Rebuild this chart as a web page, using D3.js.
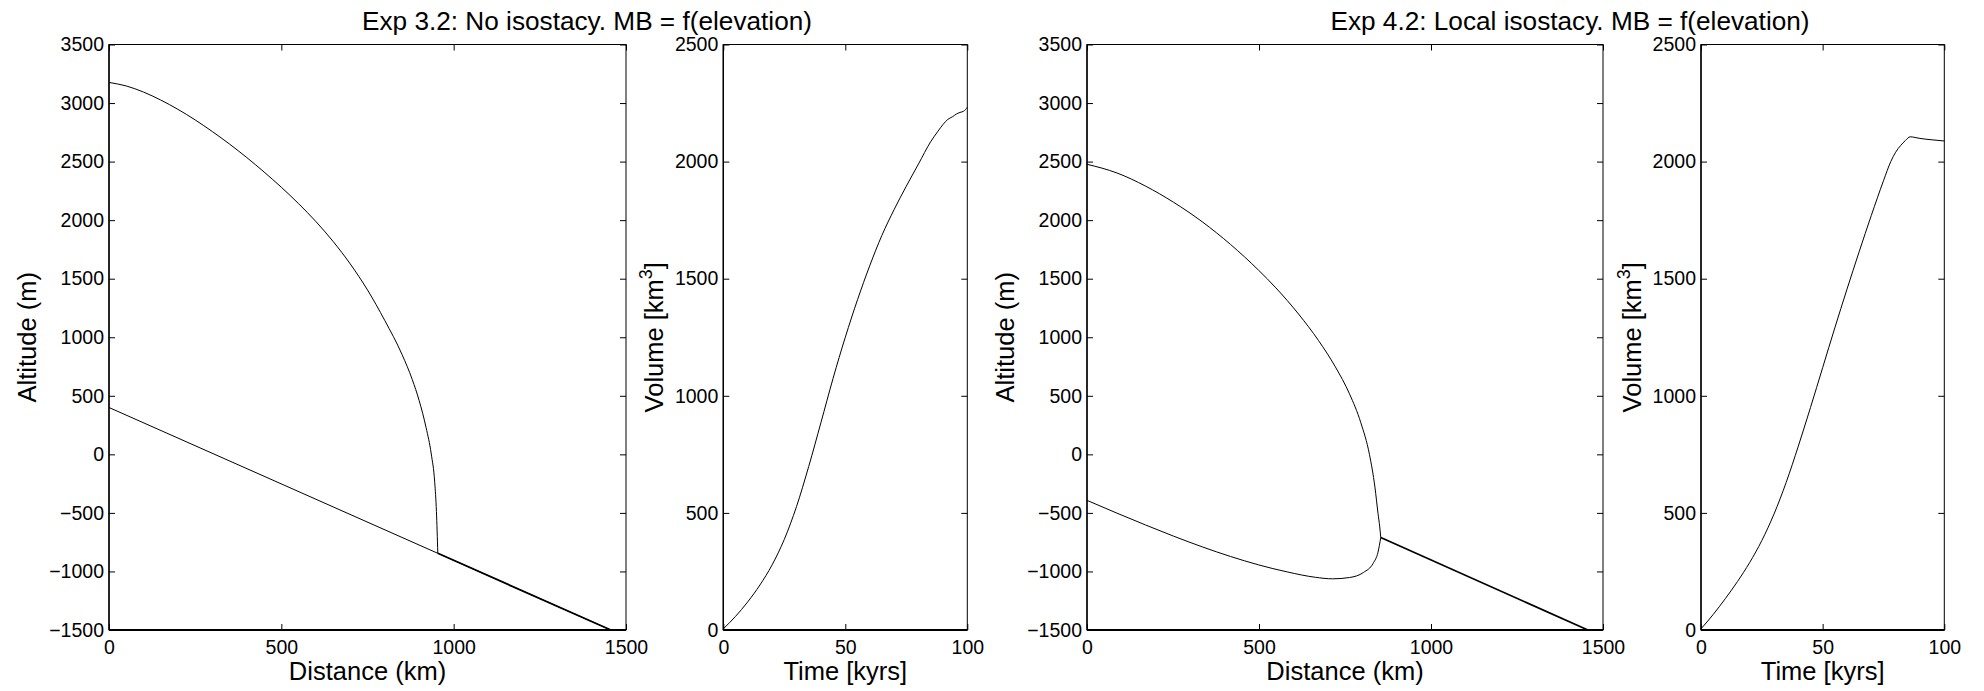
<!DOCTYPE html>
<html><head><meta charset="utf-8">
<script src="https://cdn.jsdelivr.net/npm/d3@7"></script>
<style>
html,body{margin:0;padding:0;background:#fff;}
svg{display:block;}
text{font-family:"Liberation Sans",Arial,Helvetica,sans-serif;fill:#000;}
</style></head><body>
<svg id="chart" width="1984" height="691"></svg>
<script>
// ---------------- data ----------------
const titles = ["Exp 3.2: No isostacy. MB = f(elevation)", "Exp 4.2: Local isostacy. MB = f(elevation)"];
const profileXTicks = [0, 500, 1000, 1500];
const profileYTicks = [-1500, -1000, -500, 0, 500, 1000, 1500, 2000, 2500, 3000, 3500];
const volumeXTicks = [0, 50, 100];
const volumeYTicks = [0, 500, 1000, 1500, 2000, 2500];

// Exp 3.2 ice surface and bed (distance km, altitude m)
const exp32SurfDist = [0, 50, 100, 150, 200, 250, 300, 350, 400, 450, 500, 550, 600, 650, 700, 750, 800, 850, 880, 900, 920, 935, 945, 950, 954];
const exp32SurfElev = [3176, 3146, 3094, 3026, 2946, 2856, 2756, 2649, 2534, 2411, 2281, 2141, 1989, 1819, 1626, 1404, 1144, 854, 638, 458, 228, 3, -238, -488, -845];
const exp32BedDist = [0, 954, 1456];
const exp32BedElev = [400, -845, -1500];
// Exp 3.2 volume (kyrs, km^3)
const exp32Time = [0, 5, 10, 15, 20, 25, 30, 35, 40, 45, 50, 55, 60, 65, 70, 75, 80, 85, 88, 90, 92, 94, 95.5, 97, 98.5, 100];
const exp32Volume = [5, 58, 120, 192, 278, 387, 527, 698, 885, 1075, 1250, 1410, 1555, 1685, 1795, 1895, 1990, 2085, 2130, 2158, 2180, 2192, 2203, 2210, 2215, 2232];

// Exp 4.2 ice surface and depressed bed
const exp42SurfDist = [0, 87, 170, 252, 335, 417, 499, 549, 615, 673, 722, 763, 796, 821, 837, 846, 851, 854];
const exp42SurfElev = [2477, 2403, 2291, 2152, 1986, 1793, 1572, 1422, 1198, 972, 747, 517, 270, 0, -280, -505, -620, -710];
const exp42BedDist = [0, 87, 170, 252, 335, 417, 499, 582, 664, 714, 763, 804, 832, 846, 854];
const exp42BedElev = [-393, -502, -603, -699, -790, -872, -944, -1004, -1050, -1063, -1052, -1008, -930, -835, -710];
const exp42FreeDist = [854, 1456];
const exp42FreeElev = [-710, -1500];
// Exp 4.2 volume
const exp42Time = [0, 5, 10, 15, 20, 25, 30, 35, 40, 45, 50, 55, 60, 65, 70, 75, 78, 80, 82, 84, 86, 88, 90, 95, 100];
const exp42Volume = [5, 66, 134, 207, 288, 382, 495, 630, 785, 950, 1120, 1290, 1455, 1615, 1770, 1918, 2000, 2040, 2068, 2090, 2106, 2103, 2099, 2093, 2088];

// ---------------- drawing ----------------
const svg = d3.select("#chart");
const TICK_FS = 19.5, LABEL_FS = 25.5, TITLE_FS = 26.2;
const TOP = 44.5, BOTTOM = 630;

const panels = [
  {left:109, right:626, xDomain:[0,1500], yDomain:[-1500,3500], xTicks:profileXTicks, yTicks:profileYTicks,
   xLabel:"Distance (km)", yLabel:"Altitude (m)", yOff:73},
  {left:723.3, right:967.3, xDomain:[0,100], yDomain:[0,2500], xTicks:volumeXTicks, yTicks:volumeYTicks,
   xLabel:"Time [kyrs]", yLabel:"volume", yOff:60},
  {left:1087, right:1603, xDomain:[0,1500], yDomain:[-1500,3500], xTicks:profileXTicks, yTicks:profileYTicks,
   xLabel:"Distance (km)", yLabel:"Altitude (m)", yOff:73},
  {left:1701, right:1944.3, xDomain:[0,100], yDomain:[0,2500], xTicks:volumeXTicks, yTicks:volumeYTicks,
   xLabel:"Time [kyrs]", yLabel:"volume", yOff:60}
];

const fmt = d3.format("d");
const TL = 6;

function styleAxis(g){
  g.select(".domain").remove();
  g.attr("font-family", null).attr("font-size", TICK_FS);
  g.selectAll("line").attr("stroke", "#000").attr("stroke-width", 1);
}

panels.forEach(p => {
  p.x = d3.scaleLinear().domain(p.xDomain).range([p.left, p.right]);
  p.y = d3.scaleLinear().domain(p.yDomain).range([BOTTOM, TOP]);
  const g = svg.append("g");
  p.g = g;
  g.append("g").attr("transform", `translate(0,${BOTTOM})`)
    .call(d3.axisBottom(p.x).tickValues(p.xTicks).tickSize(-TL).tickPadding(10).tickFormat(fmt)).call(styleAxis);
  g.append("g").attr("transform", `translate(0,${TOP})`)
    .call(d3.axisTop(p.x).tickValues(p.xTicks).tickSize(-TL).tickFormat("")).call(styleAxis);
  g.append("g").attr("transform", `translate(${p.left},0)`)
    .call(d3.axisLeft(p.y).tickValues(p.yTicks).tickSize(-TL).tickPadding(5).tickFormat(fmt)).call(styleAxis);
  g.append("g").attr("transform", `translate(${p.right},0)`)
    .call(d3.axisRight(p.y).tickValues(p.yTicks).tickSize(-TL).tickFormat("")).call(styleAxis);
  // box
  g.append("rect").attr("x", p.left).attr("y", TOP).attr("width", p.right - p.left).attr("height", BOTTOM - TOP)
    .attr("fill", "none").attr("stroke", "#000").attr("stroke-width", 1);
  g.append("line").attr("x1", p.left).attr("x2", p.right).attr("y1", BOTTOM).attr("y2", BOTTOM)
    .attr("stroke", "#000").attr("stroke-width", 2);
  g.append("line").attr("x1", p.left).attr("x2", p.left).attr("y1", TOP).attr("y2", BOTTOM)
    .attr("stroke", "#000").attr("stroke-width", 1.4);
  // x label
  g.append("text").attr("x", (p.left + p.right) / 2).attr("y", 680).attr("text-anchor", "middle")
    .attr("font-size", LABEL_FS).text(p.xLabel);
  // y label
  const yl = g.append("text")
    .attr("transform", `translate(${p.left - p.yOff},${(TOP + BOTTOM) / 2}) rotate(-90)`)
    .attr("text-anchor", "middle").attr("font-size", LABEL_FS);
  if (p.yLabel === "volume") {
    yl.append("tspan").text("Volume [km");
    yl.append("tspan").attr("font-size", LABEL_FS * 0.7).attr("dy", -11).text("3");
    yl.append("tspan").attr("dy", 11).text("]");
  } else {
    yl.text(p.yLabel);
  }
});

// titles
svg.append("text").attr("x", 587).attr("y", 30).attr("text-anchor", "middle").attr("font-size", TITLE_FS).text(titles[0]);
svg.append("text").attr("x", 1570).attr("y", 30).attr("text-anchor", "middle").attr("font-size", TITLE_FS).text(titles[1]);

function zip(a, b){ return a.map((v, i) => [v, b[i]]); }
function drawLine(p, xs, ys, curve, width){
  const line = d3.line().x(d => p.x(d[0])).y(d => p.y(d[1])).curve(curve);
  p.g.append("path").attr("d", line(zip(xs, ys))).attr("fill", "none")
    .attr("stroke", "#000").attr("stroke-width", width || 1).attr("stroke-linejoin", "round");
}
const smooth = d3.curveMonotoneX;

// Panel 1
drawLine(panels[0], exp32BedDist, exp32BedElev, d3.curveLinear, 1);
drawLine(panels[0], exp32SurfDist, exp32SurfElev, smooth, 1);
drawLine(panels[0], exp32BedDist.slice(1), exp32BedElev.slice(1), d3.curveLinear, 1.8);
// Panel 2
drawLine(panels[1], exp32Time, exp32Volume, smooth, 1);
// Panel 3
drawLine(panels[2], exp42SurfDist, exp42SurfElev, smooth, 1);
drawLine(panels[2], exp42BedDist, exp42BedElev, smooth, 1);
drawLine(panels[2], exp42FreeDist, exp42FreeElev, d3.curveLinear, 1.8);
// Panel 4
drawLine(panels[3], exp42Time, exp42Volume, smooth, 1);
</script>
</body></html>
